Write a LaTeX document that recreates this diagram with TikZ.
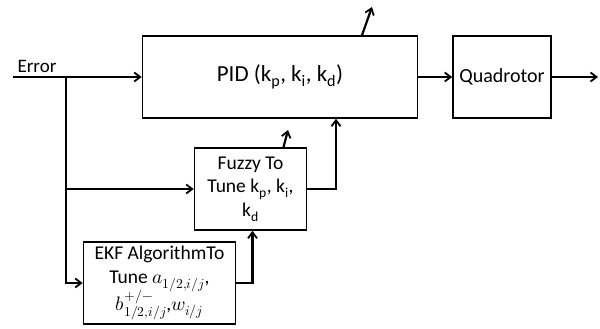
\documentclass[tikz,border=0pt]{standalone}
\usepackage{fontspec}
\usepackage{unicode-math}
\setmainfont{Carlito}
\setmathfont{Latin Modern Math}
\usepackage{tikz}
\usetikzlibrary{arrows.meta,positioning}

\begin{document}
\begin{tikzpicture}[
  x=1pt,y=-1pt,
  >={Straight Barb[length=6pt,width=9pt,line width=1.8pt]},
  block/.style={rectangle,draw,line width=1.6pt,inner sep=2pt,align=center,
    font=\fontsize{19.5}{23.5}\selectfont},
  sig/.style={->,line width=2.2pt},
  lbl/.style={font=\fontsize{19}{23}\selectfont,inner sep=0pt}
]
  \useasboundingbox (0,0) rectangle (600,329);

  % --- Blocks ---
  \node[block,minimum width=275pt,minimum height=82pt,font=\fontsize{23}{27}\selectfont] (PID) at (280,77)
    {PID (k\textsubscript{p}, k\textsubscript{i}, k\textsubscript{d})};
  \node[block,minimum width=98pt,minimum height=82pt,font=\fontsize{20}{24}\selectfont] (Quad) at (502,77) {Quadrotor};
  \node[block,minimum width=112pt,minimum height=82pt] (Fuzzy) at (250.5,189)
    {Fuzzy To\\Tune k\textsubscript{p}, k\textsubscript{i},\\k\textsubscript{d}};
  \node[block,minimum width=152pt,minimum height=82pt,inner sep=0pt] (EKF) at (159.5,283)
    {EKF AlgorithmTo\\[1pt]Tune $a_{1/2{,}i/j}$,\\[-3pt]$b^{+/-}_{1/2{,}i/j}$,$w_{i/j}$};

  % --- Input / output points ---
  \coordinate (in)    at (13,77);
  \coordinate (split) at (66,77);
  \coordinate (out)   at (598,77);
  \coordinate (pidup) at (372,7);
  \coordinate (fzup)  at (288,130);
  \node[lbl] (err) at (37,66) {Error};

  % --- Main path ---
  \draw[sig] (in) -- (PID.west);
  \draw[sig] (PID.east) -- (Quad.west);
  \draw[sig] (Quad.east) -- (out);

  % --- Tuning branches ---
  \draw[sig] (split) |- (EKF.west);
  \draw[sig] (split |- Fuzzy.west) -- (Fuzzy.west);
  \draw[sig] (EKF.east) -| ([xshift=2pt]Fuzzy.south);
  \draw[sig] (Fuzzy.east) -| ([xshift=56pt]PID.south);

  % --- Gain outputs ---
  \draw[sig] ([xshift=82pt]PID.north) -- (pidup);
  \draw[sig] ([xshift=33pt]Fuzzy.north) -- (fzup);
\end{tikzpicture}
\end{document}
